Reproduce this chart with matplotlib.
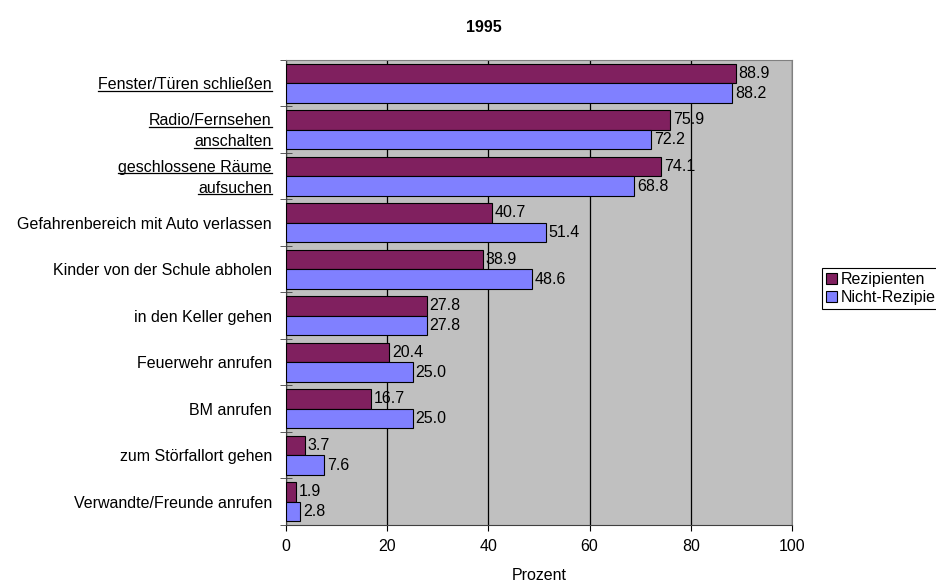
import numpy as np
import matplotlib
matplotlib.use('Agg')
import matplotlib.pyplot as plt
from matplotlib.lines import Line2D

plt.rcParams['font.family'] = 'Liberation Sans'
plt.rcParams['font.size'] = 11.5

categories = ['Fenster/Türen schließen', 'Radio/Fernsehen\nanschalten',
              'geschlossene Räume\naufsuchen', 'Gefahrenbereich mit Auto verlassen',
              'Kinder von der Schule abholen', 'in den Keller gehen',
              'Feuerwehr anrufen', 'BM anrufen', 'zum Störfallort gehen',
              'Verwandte/Freunde anrufen']
underlined = [True, True, True, False, False, False, False, False, False, False]
rezipienten = [88.9, 75.9, 74.1, 40.7, 38.9, 27.8, 20.4, 16.7, 3.7, 1.9]
nicht_rezipienten = [88.2, 72.2, 68.8, 51.4, 48.6, 27.8, 25.0, 25.0, 7.6, 2.8]

fig = plt.figure(figsize=(9.36, 5.84), dpi=100)
ax = fig.add_axes([286 / 936, 59 / 584, 506 / 936, 465 / 584])
ax.set_facecolor('#C0C0C0')

y = np.arange(len(categories))
h = 0.42
b1 = ax.barh(y - h / 2, rezipienten, height=h, color='#80205F',
             edgecolor='black', linewidth=0.8, label='Rezipienten', zorder=3)
b2 = ax.barh(y + h / 2, nicht_rezipienten, height=h, color='#8080FF',
             edgecolor='black', linewidth=0.8, label='Nicht-Rezipienten', zorder=3)
ax.bar_label(b1, fmt='%.1f', padding=2)
ax.bar_label(b2, fmt='%.1f', padding=2)

ax.set_xlim(0, 100)
ax.set_ylim(len(categories) - 0.5, -0.5)
ax.set_xticks(range(0, 101, 20))
ax.grid(axis='x', color='black', linewidth=0.9, zorder=1)
ax.set_axisbelow(True)

ax.set_yticks(y)
ax.set_yticklabels(['' if u else c for c, u in zip(categories, underlined)])
ax.set_yticks(np.arange(-0.5, len(categories)), minor=True)
ax.tick_params(axis='y', which='major', length=0, pad=10)
ax.tick_params(axis='y', which='minor', length=9, direction='inout', color='#404040')
ax.tick_params(axis='x', length=4, direction='out', pad=6)

for side in ['left', 'bottom']:
    ax.spines[side].set_color('#404040')
for side in ['top', 'right']:
    ax.spines[side].set_color('#808080')

ax.set_xlabel('Prozent', labelpad=10)
fig.text(484 / 936, 1 - 28 / 584, '1995', ha='center', va='center', fontweight='bold')

# underlined labels drawn line by line
trans = ax.get_yaxis_transform()
line_step = 0.45
ul_texts = []
for yi, (c, u) in enumerate(zip(categories, underlined)):
    if not u:
        continue
    parts = c.split('\n')
    start = yi - line_step * (len(parts) - 1) / 2
    for k, p in enumerate(parts):
        t = ax.text(-0.028, start + k * line_step, p, transform=trans,
                    ha='right', va='center_baseline')
        ul_texts.append(t)

fig.canvas.draw()
renderer = fig.canvas.get_renderer()
inv = fig.transFigure.inverted()
for t in ul_texts:
    bb = t.get_window_extent(renderer)
    x0, y0 = inv.transform((bb.x0, bb.y0 + 1.5))
    x1, _ = inv.transform((bb.x1, bb.y0 + 1.5))
    fig.add_artist(Line2D([x0, x1], [y0, y0], transform=fig.transFigure,
                          color='black', linewidth=0.9))

leg = fig.legend(handles=[b1, b2], loc='upper left',
                 bbox_to_anchor=(822 / 936, 1 - 268 / 584),
                 fancybox=False, edgecolor='black', framealpha=1,
                 borderpad=0.25, handlelength=0.7, handleheight=0.7,
                 handletextpad=0.2, labelspacing=0.2, borderaxespad=0)
leg.get_frame().set_linewidth(0.8)

fig.savefig('out.png', dpi=100)
